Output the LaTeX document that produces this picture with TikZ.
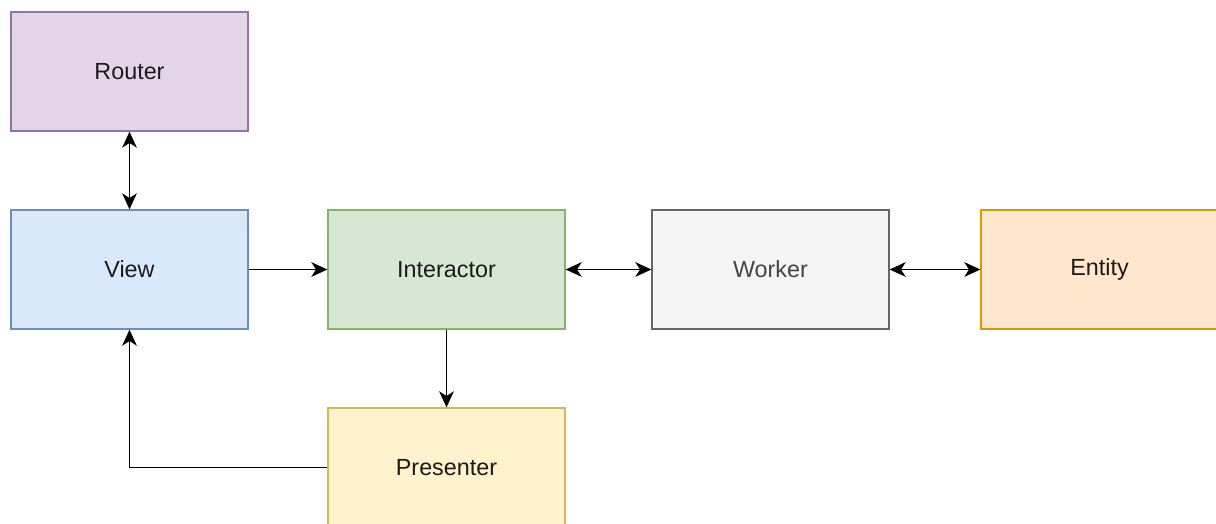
\documentclass[tikz,border=0pt]{standalone}
\usepackage{fontspec}
\setmainfont{Liberation Sans}
\usetikzlibrary{arrows.meta}

\definecolor{routerfill}{HTML}{E1D5E7}
\definecolor{routerline}{HTML}{9673A6}
\definecolor{viewfill}{HTML}{DAE8FC}
\definecolor{viewline}{HTML}{6C8EBF}
\definecolor{interfill}{HTML}{D5E8D4}
\definecolor{interline}{HTML}{82B366}
\definecolor{workerfill}{HTML}{F5F5F5}
\definecolor{workerline}{HTML}{666666}
\definecolor{workertext}{HTML}{444444}
\definecolor{entityfill}{HTML}{FFE6CC}
\definecolor{entityline}{HTML}{D79B00}
\definecolor{presfill}{HTML}{FFF2CC}
\definecolor{presline}{HTML}{D6B656}
\definecolor{labeltext}{HTML}{1A1A1A}

\begin{document}
\begin{tikzpicture}[x=0.75pt,y=-0.75pt,
  box/.style={draw, rectangle, line width=1pt, minimum width=177.75pt,
    minimum height=89.25pt, inner sep=0pt, text=labeltext,
    font=\fontsize{17.5}{20}\selectfont},
  link/.style={line width=1.25pt, -{Stealth[length=12pt,width=11pt,inset=3.5pt]}},
  twoway/.style={line width=1.25pt,
    {Stealth[length=12pt,width=11pt,inset=3.5pt]}-{Stealth[length=12pt,width=11pt,inset=3.5pt]}}]

\useasboundingbox (0,0) rectangle (1216,524);
\clip (0,0) rectangle (1216,524);

% layers
\node[box, fill=routerfill, draw=routerline] (router) at (129.5,71.5) {Router};
\node[box, fill=viewfill, draw=viewline] (view) at (129.5,269.5) {View};
\node[box, fill=interfill, draw=interline] (interactor) at (446.5,269.5) {Interactor};
\node[box, fill=workerfill, draw=workerline, text=workertext] (worker) at (770.5,269.5) {Worker};
\node[box, fill=entityfill, draw=entityline] (entity) at (1099.5,269.5) {Entity};
\node[box, fill=presfill, draw=presline] (presenter) at (446.5,467.5) {Presenter};

% connections
\draw[twoway] (router) -- (view);
\draw[link] (view) -- (interactor);
\draw[twoway] (interactor) -- (worker);
\draw[twoway] (worker) -- (entity);
\draw[link] (interactor) -- (presenter);
\draw[link] (presenter.west) -| (view.south);

\end{tikzpicture}
\end{document}
